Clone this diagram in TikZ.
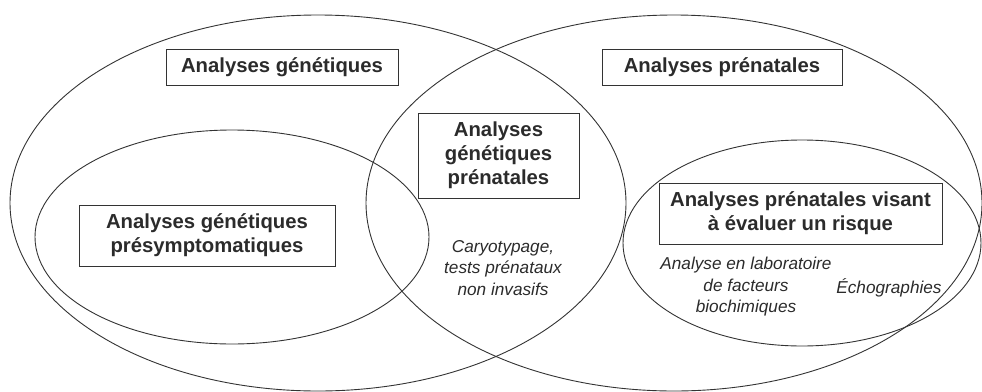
\documentclass[tikz,border=0pt]{standalone}
\usepackage{fontspec}
\setmainfont{Liberation Sans}
\definecolor{txt}{HTML}{2B2B2B}
\definecolor{ln}{HTML}{333333}
\begin{document}
\begin{tikzpicture}[x=1pt,y=-1pt,
  venn/.style={draw=ln,line width=0.9pt},
  titlebox/.style={draw=ln,line width=1pt,text=txt,align=center,inner sep=0pt,
    font=\fontsize{20.3}{24}\selectfont\bfseries},
  note/.style={text=txt,align=center,inner sep=0pt,
    font=\fontsize{17.2}{21.5}\selectfont\itshape}]
\useasboundingbox (0,0) rectangle (982,391);
% ellipses
\draw[venn] (318,203) ellipse [x radius=308pt, y radius=188pt];
\draw[venn] (674,203) ellipse [x radius=308pt, y radius=188pt];
\draw[venn] (232,237) ellipse [x radius=197pt, y radius=107pt];
\draw[venn] (802,243) ellipse [x radius=179pt, y radius=103pt];
% boxes
\node[titlebox,minimum width=232pt,minimum height=36pt] (gen) at (282,67) {Analyses génétiques};
\node[titlebox,minimum width=240pt,minimum height=36pt] (pre) at (722,67) {Analyses prénatales};
\node[titlebox,minimum width=161pt,minimum height=85pt] (genpre) at (498.5,155.5) {Analyses\\génétiques\\prénatales};
\node[titlebox,minimum width=256pt,minimum height=61pt] (presym) at (207,235.5) {Analyses génétiques\\présymptomatiques};
\node[titlebox,minimum width=283pt,minimum height=61pt] (risque) at (800.5,213.5) {Analyses prénatales visant\\à évaluer un risque};
% notes
\node[note] (cary) at (503,268) {Caryotypage,\\tests prénataux\\non invasifs};
\node[note] (labo) at (746,287) {Analyse en laboratoire\\de facteurs\\biochimiques};
\node[note] (echo) at (889,288) {Échographies};
\end{tikzpicture}
\end{document}
